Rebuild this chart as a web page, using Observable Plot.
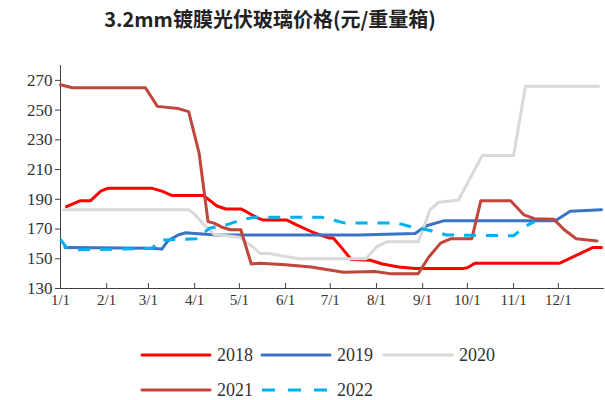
<!DOCTYPE html>
<html>
<head>
<meta charset="utf-8">
<script src="https://cdn.jsdelivr.net/npm/d3@7"></script>
<script src="https://cdn.jsdelivr.net/npm/@observablehq/plot@0.6"></script>
<style>
  html, body { margin: 0; padding: 0; background: #fff; }
  #wrap { position: relative; width: 605px; height: 400px; overflow: hidden; }
  #title { position: absolute; left: 0; top: 4px; width: 540px; text-align: center;
           font-family: "Noto Sans CJK SC", sans-serif; font-weight: bold; font-size: 20px; color: #222; }
  #chart { position: absolute; left: 0; top: 45px; }
  #legend { position: absolute; left: 0; top: 320px; }
</style>
</head>
<body>
<div id="wrap">
  <div id="title">3.2mm镀膜光伏玻璃价格(元/重量箱)</div>
  <div id="chart"></div>
  <div id="legend"></div>
</div>
<script>
// ---- data ----
const monthLabels = ["1/1","2/1","3/1","4/1","5/1","6/1","7/1","8/1","9/1","10/1","11/1","12/1"];
const yTicks = [130,150,170,190,210,230,250,270];
const years = ["2018","2019","2020","2021","2022"];
const colors = ["#FF0000","#3A72C4","#D9D9D9","#C0453A","#00B0F0"];

const dates2018 = ["1/5","1/14","1/21","1/28","2/2","3/3","3/10","3/17","4/7","4/16","4/22","5/2","5/6","5/13","5/17","6/2","6/8","6/20","6/30","7/3","7/9","7/15","7/28","8/5","8/16","8/27","9/28","10/1","10/6","12/2","12/24","12/30"];
const vals2018  = [185,189,189,195.5,197.5,197.5,195.5,192.5,192.5,185.5,183.5,183.5,181.5,177.5,176,176,173,167.5,164,164,157,149.5,149,146.5,144.5,143.5,143.5,144,147,147,157.5,157.5];

const dates2019 = ["1/4","3/3","3/10","3/14","3/21","3/26","4/1","4/16","7/20","8/27","9/3","9/15","11/29","12/9","12/30"];
const vals2019  = [157.5,157,156.5,162,166,167.5,167,166,166,167,172,175.5,175.5,182,183];

const dates2020 = ["1/3","3/28","4/1","4/7","4/14","5/1","5/10","5/15","5/21","6/1","6/10","7/25","8/1","8/8","8/29","9/6","9/12","9/25","10/11","11/1","11/9","12/28"];
const vals2020  = [183,183,180,173,166.5,164.5,158,153.5,153.5,151.5,150,150,158,161.5,161.5,183,188,189.5,219.5,219.5,266,266];

const dates2021 = ["1/1","1/9","2/27","3/7","3/21","3/28","4/4","4/10","4/14","4/20","4/25","5/2","5/9","5/15","6/1","6/18","7/10","7/31","8/10","8/29","9/5","9/13","9/20","10/4","10/10","10/30","11/8","11/15","11/28","12/5","12/13","12/27"];
const vals2021  = [267,265,265,252.5,251,249,221,175,174,171,169.5,169.5,146.5,147,146,144.5,141,141.5,140,140,151,160.5,163.5,163.5,189,189,179.5,177,176.5,169.5,163.5,162];

const dates2022 = ["1/1","1/5","1/13","3/3","3/10","4/2","4/11","4/23","5/3","5/12","6/25","7/11","8/15","8/26","9/4","9/17","11/1","11/9","11/15"];
const vals2022  = [163,157.5,156,157,162.5,163.5,170.5,173,176.5,178,178,174,174,171,169.5,166,165.5,172,175];

// ---- helpers ----
const monthStart = [0,31,59,90,120,151,181,212,243,273,304,334];
const doy = s => { const [m, d] = s.split("/").map(Number); return monthStart[m - 1] + d - 1; };
const series = [
  [dates2018, vals2018], [dates2019, vals2019], [dates2020, vals2020],
  [dates2021, vals2021], [dates2022, vals2022]
].map(([ds, vs], i) => ds.map((d, j) => ({year: years[i], x: doy(d), y: vs[j]})));

const axisColor = "#404040";
const font = "Liberation Serif, Times New Roman, serif";
const H = 275, MT = 20, MB = 32;

const marks = [
  Plot.ruleY([130], {stroke: axisColor, strokeWidth: 1}),
  Plot.ruleX([0], {stroke: axisColor, strokeWidth: 1}),
  Plot.tickX(monthStart.slice(1), {x: d => d, stroke: axisColor, insetTop: H - MT - MB - 5}),
  Plot.axisY({ticks: yTicks, label: null, tickSize: 5, tickPadding: 3, fontSize: 17, fontFamily: font, stroke: axisColor, color: "#333"}),
  Plot.axisX({ticks: monthStart, label: null, tickFormat: d => monthLabels[monthStart.indexOf(d)], tickSize: 0, tickPadding: 6, fontSize: 15, fontFamily: font, color: "#333"})
];
series.forEach((s, i) => {
  marks.push(Plot.line(s, {
    x: "x", y: "y", stroke: colors[i], strokeWidth: 3,
    strokeLinejoin: "round", strokeLinecap: i === 4 ? "butt" : "round",
    strokeDasharray: i === 4 ? "12,10" : null
  }));
});

const chart = Plot.plot({
  width: 605, height: H,
  marginLeft: 60, marginRight: 1, marginTop: MT, marginBottom: MB,
  style: {background: "#fff", overflow: "visible"},
  x: {domain: [0, 365], axis: null},
  y: {domain: [130, 280], axis: null},
  marks
});
document.getElementById("chart").appendChild(chart);

// ---- legend ----
const leg = d3.select("#legend").append("svg").attr("width", 605).attr("height", 80);
const pos = [[142, 35], [262, 35], [384, 35], [142, 70], [262, 70]];
years.forEach((y, i) => {
  const [lx, ly] = pos[i];
  leg.append("line").attr("x1", lx).attr("x2", lx + 68).attr("y1", ly).attr("y2", ly)
    .attr("stroke", colors[i]).attr("stroke-width", 3)
    .attr("stroke-dasharray", i === 4 ? "13,13" : null)
    .attr("stroke-linecap", i === 4 ? "butt" : "round");
  leg.append("text").attr("x", lx + 75).attr("y", ly).attr("dy", "0.35em")
    .attr("font-family", font).attr("font-size", 18).attr("fill", "#333").text(y);
});
</script>
</body>
</html>
